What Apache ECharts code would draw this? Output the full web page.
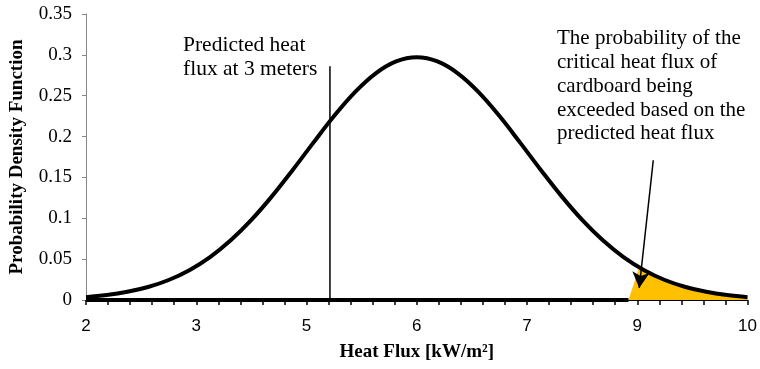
<!DOCTYPE html>
<html>
<head>
<meta charset="utf-8">
<script src="https://cdn.jsdelivr.net/npm/echarts@6/dist/echarts.min.js"></script>
<style>
  html, body { margin: 0; padding: 0; background: #fff; }
  #chart { width: 760px; height: 369px; }
</style>
</head>
<body>
<div id="chart"></div>
<script>
// heat flux (kW/m2) and probability density
const heatFlux = [2, 2.25, 2.5, 2.75, 3, 3.25, 3.5, 3.75, 4, 4.25, 4.5, 4.75, 5, 5.25, 5.5, 5.75, 6,
                  6.25, 6.5, 6.75, 7, 7.25, 7.5, 7.75, 8, 8.25, 8.5, 8.75, 9, 9.25, 9.5, 9.75, 10]
const pdf = [0.0035, 0.0060, 0.0100, 0.0159, 0.0245, 0.0365, 0.0525, 0.0730, 0.0980, 0.1271, 0.1592,
             0.1926, 0.2251, 0.2541, 0.2771, 0.2919, 0.2970, 0.2919, 0.2771, 0.2541, 0.2251, 0.1926,
             0.1592, 0.1271, 0.0980, 0.0730, 0.0525, 0.0365, 0.0245, 0.0159, 0.0100, 0.0060, 0.0035]

// shaded tail (critical heat flux of cardboard exceeded)
const tailX = [8.56, 8.69, 8.75, 9, 9.25, 9.5, 9.75, 10]
const tailY = [0, 0.0400, 0.0365, 0.0245, 0.0159, 0.0100, 0.0060, 0.0035]

// thick baseline drawn before the tail
const baseX = [2, 8.56]
const baseY = [0, 0]

// predicted heat flux marker
const predictedX = 4.95
const predictedTop = 0.286

// arrow pointing at the tail
const arrowFrom = [8.86, 0.171]
const arrowTo = [8.69, 0.0147]

// tick labels on the x axis (Excel category labels rounded)
const xLabelValues = [2, 2 + 8 / 6, 2 + 16 / 6, 6, 2 + 32 / 6, 2 + 40 / 6, 10]
const xTickValues = []
for (let i = 0; i <= 30; i++) xTickValues.push(2 + i * 8 / 30)

const serif = "'Liberation Serif', 'Times New Roman', serif"
const sans = "'Liberation Sans Narrow', 'Liberation Sans', sans-serif"

const zip = (xs, ys) => xs.map((x, i) => [x, ys[i]])

const chart = echarts.init(document.getElementById('chart'))
chart.setOption({
  animation: false,
  grid: { left: 82, right: 12, top: 14, bottom: 69 },
  xAxis: {
    type: 'value',
    min: 2,
    max: 10,
    name: 'Heat Flux [kW/m²]',
    nameLocation: 'middle',
    nameGap: 43,
    nameTextStyle: { fontFamily: serif, fontWeight: 'bold', fontSize: 19, color: '#000' },
    axisLine: { lineStyle: { color: '#000', width: 1 } },
    axisTick: { customValues: xTickValues, length: 5, lineStyle: { color: '#000', width: 1.5 } },
    axisLabel: {
      customValues: xLabelValues,
      formatter: v => String(Math.round(v)),
      fontFamily: sans, fontSize: 17, color: '#000', margin: 18
    },
    splitLine: { show: false }
  },
  yAxis: {
    type: 'value',
    min: 0,
    max: 0.35,
    interval: 0.05,
    name: 'Probability Density Function',
    nameLocation: 'middle',
    nameGap: 59,
    nameTextStyle: { fontFamily: serif, fontWeight: 'bold', fontSize: 19, color: '#000' },
    axisLine: { show: true, lineStyle: { color: '#868686', width: 1 } },
    axisTick: { show: true, length: 4, lineStyle: { color: '#868686' } },
    axisLabel: { fontFamily: serif, fontSize: 19, color: '#000', margin: 14 },
    splitLine: { show: false }
  },
  series: [
    {
      type: 'line',
      data: zip(tailX, tailY),
      symbol: 'none',
      lineStyle: { width: 0 },
      areaStyle: { color: '#ffc000', opacity: 1 },
      z: 1
    },
    {
      type: 'line',
      data: zip(baseX, baseY),
      symbol: 'none',
      lineStyle: { color: '#000', width: 4 },
      z: 2
    },
    {
      type: 'line',
      data: zip([predictedX, predictedX], [0, predictedTop]),
      symbol: 'none',
      lineStyle: { color: '#000', width: 1.5 },
      z: 3
    },
    {
      type: 'line',
      data: zip(heatFlux, pdf),
      smooth: 0.4,
      symbol: 'none',
      lineStyle: { color: '#000', width: 4 },
      z: 4,
      markLine: {
        silent: true,
        symbol: ['none', 'arrow'],
        symbolSize: [13, 16],
        label: { show: false },
        lineStyle: { color: '#000', width: 1.5, type: 'solid' },
        data: [[{ coord: arrowFrom }, { coord: arrowTo }]]
      }
    }
  ],
  graphic: [
    {
      type: 'text',
      left: 183,
      top: 33,
      style: {
        text: 'Predicted heat\nflux at 3 meters',
        font: '21.5px ' + serif,
        lineHeight: 24,
        fill: '#000'
      }
    },
    {
      type: 'text',
      left: 557,
      top: 27,
      style: {
        text: 'The probability of the\ncritical heat flux of\ncardboard being\nexceeded based on the\npredicted heat flux',
        font: '21px ' + serif,
        lineHeight: 23.75,
        fill: '#000'
      }
    }
  ]
})
</script>
</body>
</html>
